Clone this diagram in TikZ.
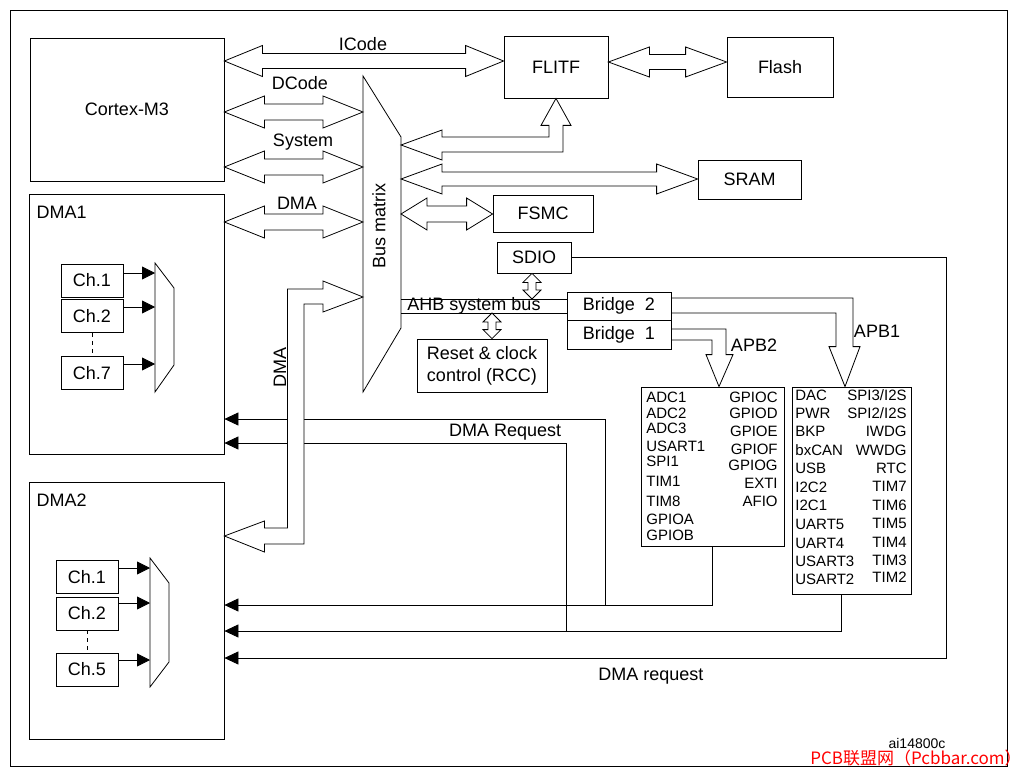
\documentclass[tikz,border=0pt]{standalone}
\usepackage{fontspec}
\setmainfont{Liberation Sans}
\newfontfamily\cjk{Noto Sans CJK SC}
\usetikzlibrary{calc,arrows.meta}

\tikzset{
  busL/.store in=\busL, busH/.store in=\busH, busS/.store in=\busS,
  busL=38, busH=15.5, busS=7.5,
  hbus/.style={draw,fill=white,line join=miter,to path={
    -- ($(\tikztostart)+(\busL,-\busH)$) -- ($(\tikztostart)+(\busL,-\busS)$)
    -- ($(\tikztotarget)+(-\busL,-\busS)$) -- ($(\tikztotarget)+(-\busL,-\busH)$)
    -- (\tikztotarget) -- ($(\tikztotarget)+(-\busL,\busH)$)
    -- ($(\tikztotarget)+(-\busL,\busS)$) -- ($(\tikztostart)+(\busL,\busS)$)
    -- ($(\tikztostart)+(\busL,\busH)$) -- cycle}},
  vbus/.style={draw,fill=white,line join=miter,to path={
    -- ($(\tikztostart)+(-\busH,\busL)$) -- ($(\tikztostart)+(-\busS,\busL)$)
    -- ($(\tikztotarget)+(-\busS,-\busL)$) -- ($(\tikztotarget)+(-\busH,-\busL)$)
    -- (\tikztotarget) -- ($(\tikztotarget)+(\busH,-\busL)$)
    -- ($(\tikztotarget)+(\busS,-\busL)$) -- ($(\tikztostart)+(\busS,\busL)$)
    -- ($(\tikztostart)+(\busH,\busL)$) -- cycle}}
}

\begin{document}
\begin{tikzpicture}[x=1pt,y=-1pt,line width=0.8pt,
  every node/.style={font=\fontsize{18}{22}\selectfont},
  box/.style={draw,inner sep=0pt},
  small/.style={font=\fontsize{15}{17}\selectfont,inner sep=0pt},
  req/.style={draw,-{Triangle[length=14pt,width=13pt]}},
  chn/.style={draw,-{Triangle[length=13pt,width=13pt]}}]

\useasboundingbox (0,0) rectangle (1020,773);
\draw (10,10) rectangle (1007,766);

\node[box,minimum width=194pt,minimum height=143pt] (cpu) at (127,109.5) {Cortex-M3};
\node[box,minimum width=195pt,minimum height=260pt] (dma1) at (126.5,324) {};
\node[box,minimum width=195pt,minimum height=257pt] (dma2) at (126.5,610.5) {};
\node[anchor=west] (d1t) at (33,212) {DMA1};
\node[anchor=west] (d2t) at (33,500) {DMA2};
\node[box,minimum width=104pt,minimum height=62pt] (flitf) at (556,67) {FLITF};
\node[box,minimum width=106pt,minimum height=60pt] (flash) at (780,67) {Flash};
\node[box,minimum width=103pt,minimum height=39pt] (sram) at (749.5,179.5) {SRAM};
\node[box,minimum width=100pt,minimum height=37pt] (fsmc) at (543,213.5) {FSMC};
\node[box,minimum width=74pt,minimum height=31pt] (sdio) at (534,257.5) {SDIO};
\node[box,minimum width=130pt,minimum height=53pt,align=center] (rcc) at (482,365.5) {Reset \& clock\\control (RCC)};
\node[box,minimum width=104pt,minimum height=28pt] (br2) at (619,306) {Bridge\ \ 2};
\node[box,minimum width=104pt,minimum height=29pt] (br1) at (619,334.5) {Bridge\ \ 1};
\node[box,minimum width=143pt,minimum height=159pt] (apb2) at (712.5,466.5) {};
\node[box,minimum width=119pt,minimum height=207pt] (apb1) at (851.5,490.5) {};

\draw (363,76) -- (401,137) -- (401,328) -- (363,392) -- cycle;
\node[rotate=90] (bm) at (379,226) {Bus matrix};
\coordinate (bmL) at (363,0);
\coordinate (bmR) at (401,0);

\draw (155,263) -- (174,288) -- (174,365) -- (155,392) -- cycle;
\draw (150,558) -- (169,583) -- (169,662) -- (150,687) -- cycle;
\coordinate (mx1) at (155,0);
\coordinate (mx2) at (150,0);
\foreach \n/\y/\a in {1/280.5/273, 2/316/307, 7/373/364} {
  \node[box,minimum width=62pt,minimum height=33pt] (c1\n) at (92,\y) {Ch.\n};
  \draw[chn] (c1\n.east |- 0,\a) -- (mx1 |- 0,\a);
}
\foreach \n/\y/\a in {1/577/568, 2/613.5/603, 5/669.5/660} {
  \node[box,minimum width=62pt,minimum height=33pt] (c2\n) at (87,\y) {Ch.\n};
  \draw[chn] (c2\n.east |- 0,\a) -- (mx2 |- 0,\a);
}
\draw[dash pattern=on 4pt off 4pt] (c12.south) -- (c17.north);
\draw[dash pattern=on 4pt off 4pt] (c22.south) -- (c25.north);

\draw[hbus] (cpu.east |- 0,61) to (flitf.west |- 0,61);
\node (icode) at (363,44) {ICode};
\foreach \y/\t/\lx/\ly in {112/DCode/300/83, 167/System/303/142, 222/DMA/297/203} {
  \draw[hbus,busL=40,busH=16,busS=8] (cpu.east |- 0,\y) to (bmL |- 0,\y);
  \node (l\t) at (\lx,\ly) {\t};
}
\draw[hbus,busL=41,busH=15,busS=7.5] (flitf.east |- 0,62) to (flash.west |- 0,62);
\draw[hbus,busL=41,busH=15,busS=7] (bmR |- 0,179) to (sram.west |- 0,179);
\draw[hbus,busL=26,busH=16,busS=8] (bmR |- 0,214) to (fsmc.west |- 0,214);

\coordinate (fA) at (bmR |- 0,145);
\draw[fill=white,line join=miter] (fA) -- ++(41,-15) -- ++(0,7) -| ($(flitf.south)+(-7,27)$) -- ++(-8,0) -- (flitf.south) -- ++(15,27) -- ++(-8,0) |- ($(fA)+(41,7)$) -- ++(0,8) -- cycle;

\draw (bmR |- 0,299) -- (br2.west |- 0,299);
\draw (bmR |- 0,313) -- (br2.west |- 0,313);
\node (ahb) at (474,306) {AHB system bus};
\draw[vbus,busL=9,busH=9,busS=4] (sdio.south -| 532,0) to (532,299);
\draw[vbus,busL=9,busH=9,busS=4] (492,313) to (rcc.north -| 492,0);

\coordinate (t1) at (apb1.north -| 845,0);
\coordinate (t2) at (apb2.north -| 719,0);
\draw[line join=miter] (br2.east |- 0,298) -| ($(t1)+(8,-40)$) -- ++(7,0) -- (t1) -- ++(-16,-40) -- ++(7,0) |- (br2.east |- 0,313);
\draw[line join=miter] (br1.east |- 0,329) -| ($(t2)+(7,-32)$) -- ++(7,0) -- (t2) -- ++(-13,-32) -- ++(6,0) |- (br1.east |- 0,340);
\node (apb1l) at (877,331) {APB1};
\node (apb2l) at (754,345) {APB2};

\foreach [count=\i] \t/\y in {ADC1/397,ADC2/413,ADC3/428,USART1/446,SPI1/461,TIM1/481,TIM8/501,GPIOA/519,GPIOB/535}
  \node[small,anchor=west] (p2l\i) at (646,\y) {\t};
\foreach [count=\i] \t/\y in {GPIOC/397,GPIOD/413,GPIOE/431,GPIOF/449,GPIOG/465,EXTI/483,AFIO/501}
  \node[small,anchor=east] (p2r\i) at (778,\y) {\t};
\foreach [count=\i] \t/\y in {DAC/395,PWR/413,BKP/431,bxCAN/450,USB/468,I2C2/487,I2C1/505,UART5/524,UART4/543,USART3/561,USART2/579}
  \node[small,anchor=west] (p1l\i) at (795,\y) {\t};
\foreach [count=\i] \t/\y in {{SPI3/I2S}/395,{SPI2/I2S}/413,IWDG/431,WWDG/450,RTC/468,TIM7/486,TIM6/505,TIM5/523,TIM4/542,TIM3/560,TIM2/577}
  \node[small,anchor=east] (p1r\i) at (907,\y) {\t};

\coordinate (j1) at (605,605);
\coordinate (j2) at (566,631);
\draw[req] (apb2.south) |- (dma2.east |- 0,605);
\draw[req] ($(apb1.south)+(-10,0)$) |- (dma2.east |- 0,631);
\draw[req] (sdio.east) -| (946,658) -- (dma2.east |- 0,658);
\draw[req] (j1) |- (dma1.east |- 0,419);
\draw[req] (j2) |- (dma1.east |- 0,443);
\node[anchor=east] (rq1) at (565,432) {DMA Request};
\node (rq2) at (651,676) {DMA request};

\coordinate (dA) at (bmL |- 0,297);
\coordinate (dB) at (dma2.east |- 0,536);
\draw[fill=white,line join=miter] (dA) -- ++(-40,-16) -- ++(0,8) -| ($(dB)+(63,-8)$) -- ++(-23,0) -- ++(0,-7) -- (dB) -- ++(40,16) -- ++(0,-8) -| ($(dA)+(-59,7)$) -- ++(19,0) -- ++(0,8) -- cycle;
\node[rotate=90] (dmav) at (280,367) {DMA};

\node[font=\fontsize{14}{16}\selectfont] (ai) at (917,743) {ai14800c};
\node[text=red,font=\cjk\fontsize{17}{17}\selectfont,inner sep=0pt] (wm) at (916,758) {PCB联盟网（Pcbbar.com）};

\end{tikzpicture}
\end{document}
